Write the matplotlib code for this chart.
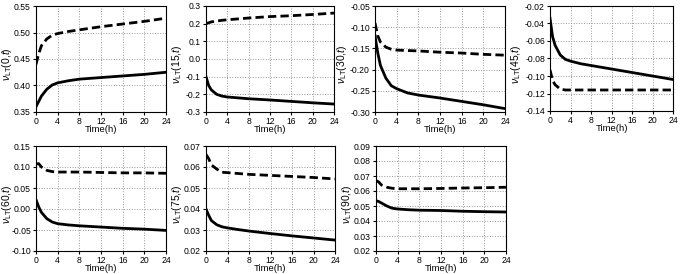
import numpy as np
import matplotlib
matplotlib.use('Agg')
import matplotlib.pyplot as plt
from matplotlib.ticker import FormatStrFormatter

plt.rcParams['font.family'] = ['Liberation Sans', 'DejaVu Sans']
plt.rcParams['mathtext.fontset'] = 'custom'
plt.rcParams['mathtext.rm'] = 'Liberation Sans'
plt.rcParams['mathtext.it'] = 'Liberation Sans:italic'

# time points (h)
t = [0, 0.5, 1, 2, 3, 4, 6, 8, 12, 16, 20, 24]

# angle -> (solid, dashed)
angles = [0, 15, 30, 45, 60, 75, 90]
solid = {
    0:  [0.360, 0.370, 0.380, 0.393, 0.401, 0.405, 0.409, 0.412, 0.415, 0.418, 0.421, 0.425],
    15: [-0.100, -0.150, -0.175, -0.200, -0.210, -0.215, -0.220, -0.225, -0.232, -0.240, -0.248, -0.255],
    30: [-0.120, -0.160, -0.190, -0.220, -0.238, -0.245, -0.255, -0.260, -0.267, -0.275, -0.283, -0.292],
    45: [-0.034, -0.055, -0.065, -0.076, -0.081, -0.083, -0.086, -0.088, -0.092, -0.096, -0.100, -0.104],
    60: [0.022, 0.005, -0.008, -0.023, -0.031, -0.035, -0.038, -0.040, -0.043, -0.046, -0.048, -0.051],
    75: [0.040, 0.037, 0.0345, 0.0325, 0.0315, 0.031, 0.0302, 0.0295, 0.0283, 0.0272, 0.0262, 0.0252],
    90: [0.0535, 0.053, 0.052, 0.050, 0.0485, 0.048, 0.0475, 0.0472, 0.047, 0.0465, 0.0462, 0.046],
}
dashed = {
    0:  [0.440, 0.460, 0.475, 0.488, 0.495, 0.498, 0.502, 0.505, 0.511, 0.516, 0.521, 0.527],
    15: [0.200, 0.205, 0.210, 0.215, 0.219, 0.222, 0.227, 0.232, 0.240, 0.245, 0.252, 0.260],
    30: [-0.090, -0.120, -0.135, -0.147, -0.152, -0.154, -0.155, -0.156, -0.159, -0.161, -0.164, -0.166],
    45: [-0.093, -0.105, -0.110, -0.115, -0.116, -0.116, -0.116, -0.116, -0.116, -0.116, -0.116, -0.116],
    60: [0.107, 0.108, 0.100, 0.092, 0.089, 0.088, 0.088, 0.088, 0.087, 0.086, 0.086, 0.085],
    75: [0.066, 0.064, 0.061, 0.059, 0.0575, 0.0573, 0.0569, 0.0565, 0.056, 0.0555, 0.055, 0.0543],
    90: [0.067, 0.066, 0.064, 0.0625, 0.0618, 0.0615, 0.0615, 0.0615, 0.0617, 0.062, 0.0622, 0.0625],
}
ylims = {0: (0.35, 0.55, 0.05, '%.2f'), 15: (-0.3, 0.3, 0.1, '%.1f'),
         30: (-0.30, -0.05, 0.05, '%.2f'), 45: (-0.14, -0.02, 0.02, '%.2f'),
         60: (-0.10, 0.15, 0.05, '%.2f'), 75: (0.02, 0.07, 0.01, '%.2f'),
         90: (0.02, 0.09, 0.01, '%.2f')}

W, H = 685, 274
boxes = [(36, 6, 130, 106), (206, 6, 128, 106), (375, 6, 130, 106), (550, 6, 123, 105),
         (36, 146, 130, 105), (206, 146, 129, 105), (376, 146, 130, 105)]
label_off = [22, 22, 26, 27, 22, 22, 22]  # px left of axes (right side of label)

fig = plt.figure(figsize=(W / 100, H / 100), dpi=100)
for ang, (x, y, w, h), off in zip(angles, boxes, label_off):
    ax = fig.add_axes([x / W, (H - y - h) / H, w / W, h / H])
    ax.plot(t, solid[ang], 'k-', lw=2.0)
    ax.plot(t, dashed[ang], 'k--', lw=2.0, dashes=(3, 1.5))
    lo, hi, st, fmt = ylims[ang]
    ax.set_ylim(lo, hi)
    ax.set_yticks(np.arange(lo, hi + st / 2, st))
    ax.yaxis.set_major_formatter(FormatStrFormatter(fmt))
    ax.set_xlim(0, 24)
    ax.set_xticks(range(0, 25, 4))
    ax.grid(True, color='#999999', ls=':', lw=0.7)
    ax.tick_params(labelsize=6.2, length=2.5, direction='out', pad=1.2)
    ax.set_xlabel('Time(h)', fontsize=6.8, labelpad=-0.8)
    ax.set_ylabel(r'$\nu_{\mathrm{LT}}$(%d,$t$)' % ang, fontsize=7.5)
    ax.yaxis.set_label_coords(-off / w, 0.45)
    for s in ax.spines.values():
        s.set_linewidth(0.8)

fig.savefig('out.png', dpi=100)
